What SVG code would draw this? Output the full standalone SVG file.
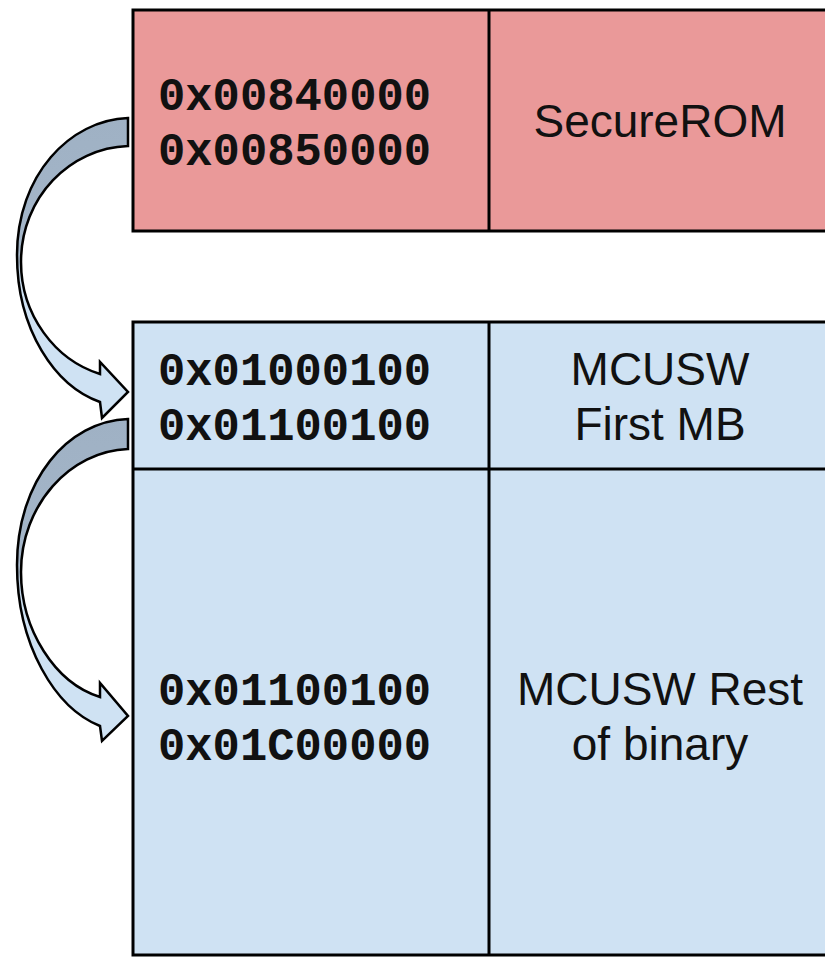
<svg xmlns="http://www.w3.org/2000/svg" width="825" height="957" viewBox="0 0 825 957">
  <defs>
    <linearGradient id="arrowGrad" x1="0" y1="0" x2="0" y2="1">
      <stop offset="0" stop-color="#9fb1c4"/>
      <stop offset="0.44" stop-color="#a4b6c9"/>
      <stop offset="0.56" stop-color="#cfe2f3"/>
      <stop offset="1" stop-color="#cfe2f3"/>
    </linearGradient>
  </defs>
  <style>
    .cell { stroke: #000; stroke-width: 3; }
    .pink { fill: #ea9999; }
    .blue { fill: #cfe2f3; }
    .div { stroke: #000; stroke-width: 3; fill: none; }
    .addr { font-family: "Liberation Mono", "Courier New", monospace; font-weight: bold; font-size: 45.5px; fill: #111; }
    .lbl { font-family: "Liberation Sans", Arial, sans-serif; font-size: 46px; fill: #111; text-anchor: middle; }
    .arrow { fill: url(#arrowGrad); stroke: #000; stroke-width: 2.5; stroke-linejoin: miter; }
  </style>
  <rect width="825" height="957" fill="#ffffff"/>

  <g id="secureROM">
    <rect class="cell pink" x="133" y="10" width="700" height="221"/>
    <line class="div" x1="489" y1="10" x2="489" y2="231"/>
    <text class="addr" x="158" y="110">0x00840000</text>
    <text class="addr" x="158" y="165">0x00850000</text>
    <text class="lbl" x="660" y="137">SecureROM</text>
  </g>

  <g id="mcusw">
    <rect class="cell blue" x="133" y="322" width="700" height="633"/>
    <line class="div" x1="489" y1="322" x2="489" y2="955"/>
    <line class="div" x1="133" y1="469" x2="825" y2="469"/>
  </g>

  <g id="firstMB">
    <text class="addr" x="158" y="385">0x01000100</text>
    <text class="addr" x="158" y="440">0x01100100</text>
    <text class="lbl" x="660" y="385">MCUSW</text>
    <text class="lbl" x="660" y="440">First MB</text>
  </g>

  <g id="restBinary">
    <text class="addr" x="158" y="705">0x01100100</text>
    <text class="addr" x="158" y="760">0x01C00000</text>
    <text class="lbl" x="660" y="705">MCUSW Rest</text>
    <text class="lbl" x="660" y="760">of binary</text>
  </g>

  <g id="connectors">
    <path class="arrow" d="M128,118 C70,120 17,175 17,255 C17,330 55,386 100,402 L102,418 L128,392 L100,362 L100,374 C55,360 21,315 21,262 C21,197 70,148 128,146 Z"/>
    <path class="arrow" d="M128,419 C68,421 17,480 17,565 C17,645 55,708 100,726 L102,741 L128,716 L100,683 L100,697 C55,683 21,630 21,572 C21,505 70,451 128,449 Z"/>
  </g>
</svg>
